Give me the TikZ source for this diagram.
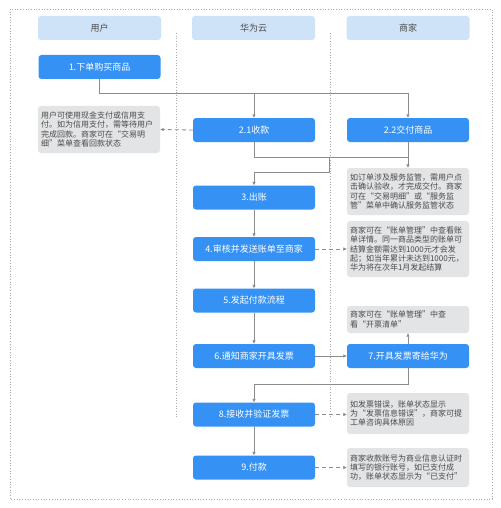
\documentclass[tikz,border=0pt]{standalone}
\usepackage{fontspec}
\setmainfont{Noto Sans CJK SC}
\usetikzlibrary{arrows.meta}
\definecolor{ink}{HTML}{4A4A4A}
\definecolor{muted}{HTML}{8C8C8C}
\definecolor{headbg}{HTML}{CFE3F8}
\definecolor{stepbg}{HTML}{3592F4}
\definecolor{notebg}{HTML}{E3E4E6}
\definecolor{frame}{HTML}{ABABAB}
\newcommand{\headfont}{\fontsize{9}{10}\selectfont}
\newcommand{\stepfont}{\fontsize{9}{10}\selectfont}
\newcommand{\notefont}{\fontsize{8}{9.4}\selectfont}

\begin{document}
\begin{tikzpicture}[x=1pt,y=-1pt,
  lanehead/.style={fill=headbg, draw=none, rounded corners=3pt, minimum width=123pt, minimum height=24pt, inner sep=0pt, text=ink, font=\headfont},
  stepbox/.style={fill=stepbg, draw=none, rounded corners=3pt, minimum width=122pt, minimum height=24pt, inner sep=0pt, text=white, font=\stepfont},
  notebox/.style={fill=notebg, draw=none, rounded corners=3pt, text width=116pt, inner xsep=3pt, inner ysep=0pt, align=left, text=ink, font=\notefont},
  flow/.style={draw=muted, line width=0.8pt, -{Triangle[length=3.5pt,width=3pt]}},
  link/.style={draw=muted, line width=0.8pt},
  hint/.style={draw=muted, line width=0.8pt, dash pattern=on 4pt off 3pt, -{Triangle[length=3.5pt,width=3pt]}}]
  \useasboundingbox (0,0) rectangle (500,508);
  \fill[white] (0,0) rectangle (500,508);

  % Frame and swim lanes.
  \draw[frame, dotted, line width=0.7pt] (10,9) rectangle (492,499);
  \draw[frame, dotted, line width=0.7pt] (176.5,33) -- (176.5,418);
  \draw[frame, dotted, line width=0.7pt] (330.5,33) -- (330.5,418);

  \node[lanehead] (user) at (99.5,28) {用户};
  \node[lanehead] (cloud) at (253.5,28) {华为云};
  \node[lanehead] (shop) at (408,28) {商家};

  % Steps.
  \node[stepbox] (buy) at (99.5,67) {1.下单购买商品};
  \node[stepbox] (pay) at (254,130) {2.1收款};
  \node[stepbox] (deliver) at (408,130) {2.2交付商品};
  \node[stepbox] (bill) at (254,197.5) {3.出账};
  \node[stepbox] (review) at (254,249) {4.审核并发送账单至商家};
  \node[stepbox] (start) at (254,300.5) {5.发起付款流程};
  \node[stepbox] (notify) at (254,356) {6.通知商家开具发票};
  \node[stepbox] (issue) at (408,356) {7.开具发票寄给华为};
  \node[stepbox] (check) at (254,414.5) {8.接收并验证发票};
  \node[stepbox] (payout) at (254,467.5) {9.付款};

  % Notes.
  \node[notebox, minimum height=47pt] (paynote) at (99,129.5) {用户可使用现金支付或信用支\\付。如为信用支付，需等待用户\\完成回款。商家可在“交易明\\细”菜单查看回款状态};
  \node[notebox, minimum height=47pt] (delnote) at (408,191.5) {如订单涉及服务监管，需用户点\\击确认验收，才完成交付。商家\\可在“交易明细”或“服务监\\管”菜单中确认服务监管状态};
  \node[notebox, minimum height=56pt] (billnote) at (408,249) {商家可在“账单管理”中查看账\\单详情。同一商品类型的账单可\\结算金额需达到1000元才会发\\起；如当年累计未达到1000元，\\华为将在次年1月发起结算};
  \node[notebox, minimum height=27pt] (issuenote) at (408,319.5) {商家可在“账单管理”中查\\看“开票清单”};
  \node[notebox, minimum height=41pt] (checknote) at (408,413.5) {如发票错误，账单状态显示\\为“发票信息错误”，商家可提\\工单咨询具体原因};
  \node[notebox, minimum height=39pt] (paidnote) at (408,467.5) {商家收款账号为商业信息认证时\\填写的银行账号，如已支付成\\功，账单状态显示为“已支付”};

  % Turning points of the connectors.
  \coordinate (split) at (0,93);
  \coordinate (merge) at (0,157);
  \coordinate (join) at (329.5,157);
  \coordinate (turn) at (0,172);
  \coordinate (back) at (0,384);

  % Connectors.
  \draw[flow] (buy.south) |- (split -| pay.north) -- (pay.north);
  \draw[flow] (buy.south) |- (split -| deliver.north) -- (deliver.north);
  \draw[link] (pay.south) |- (merge -| deliver.south);
  \draw[flow] (deliver.south) -- (delnote.north);
  \draw[flow] (join) |- (turn -| bill.north) -- (bill.north);
  \draw[hint] (pay.west) -- (paynote.east);
  \draw[flow] (bill) -- (review);
  \draw[hint] (review.east) -- (billnote.west);
  \draw[flow] (review) -- (start);
  \draw[flow] (start) -- (notify);
  \draw[flow] (notify) -- (issue);
  \draw[flow] (issue) -- (issuenote);
  \draw[flow] (issue.south) |- (back -| check.north) -- (check.north);
  \draw[hint] (check.east) -- (check.east -| checknote.west);
  \draw[flow] (check) -- (payout);
  \draw[hint] (payout.east) -- (payout.east -| paidnote.west);
\end{tikzpicture}
\end{document}
